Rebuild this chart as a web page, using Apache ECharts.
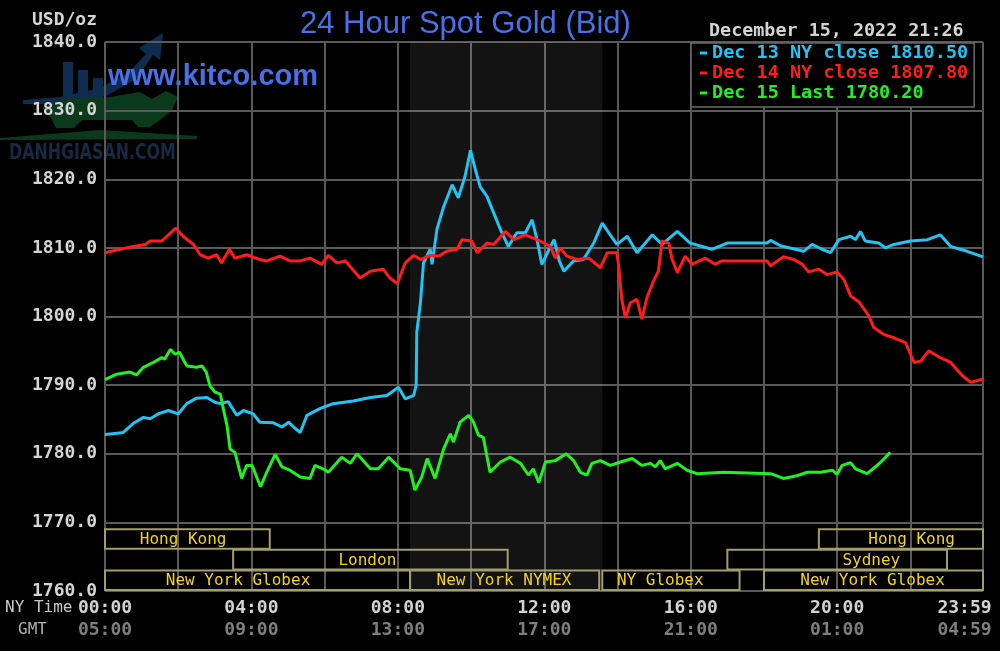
<!DOCTYPE html>
<html>
<head>
<meta charset="utf-8">
<script src="https://cdn.jsdelivr.net/npm/echarts@6/dist/echarts.min.js"></script>
<style>
html,body{margin:0;padding:0;background:#000;}
#c{width:1000px;height:651px;}
</style>
</head>
<body>
<div id="c"></div>
<script>
// ---- data (minute of NY day, USD/oz) ----
const dec13Name = 'Dec 13 NY close 1810.50';
const dec14Name = 'Dec 14 NY close 1807.80';
const dec15Name = 'Dec 15 Last 1780.20';

const dec13 = [[0,1782.8],[20,1783.0],[30,1783.1],[46,1784.4],[63,1785.3],[74,1785.1],[87,1785.8],[104,1786.3],[120,1785.8],[134,1787.3],[150,1788.1],[167,1788.2],[180,1787.5],[189,1787.3],[202,1787.6],[216,1785.6],[227,1786.3],[243,1785.8],[254,1784.6],[276,1784.5],[290,1783.9],[301,1784.6],[309,1783.9],[320,1783.1],[331,1785.6],[353,1786.6],[374,1787.3],[407,1787.7],[435,1788.2],[462,1788.5],[481,1789.7],[492,1788.0],[506,1788.5],[510,1790.0],[511,1797.7],[517,1802.0],[522,1807.8],[533,1809.8],[536,1807.6],[544,1812.7],[555,1816.0],[569,1819.2],[579,1817.3],[590,1820.4],[599,1824.2],[607,1821.4],[615,1818.9],[626,1817.5],[637,1815.1],[648,1812.7],[661,1810.2],[675,1812.2],[689,1812.2],[700,1814.1],[708,1811.2],[716,1807.6],[728,1809.8],[736,1811.2],[745,1808.0],[752,1806.6],[768,1808.1],[784,1808.3],[801,1810.7],[815,1813.6],[828,1811.9],[839,1810.5],[856,1811.7],[872,1809.3],[897,1811.9],[913,1810.5],[938,1812.4],[959,1810.7],[995,1809.8],[1020,1810.7],[1085,1810.7],[1091,1811.1],[1107,1810.3],[1145,1809.5],[1159,1810.5],[1175,1809.8],[1189,1809.3],[1203,1811.2],[1222,1811.7],[1230,1811.2],[1238,1812.4],[1246,1811.0],[1268,1810.7],[1279,1810.0],[1293,1810.5],[1320,1811.0],[1348,1811.2],[1369,1811.9],[1386,1810.2],[1413,1809.5],[1439,1808.7]];

const dec14 = [[0,1809.3],[25,1809.8],[46,1810.2],[66,1810.5],[74,1811.0],[93,1811.0],[104,1811.9],[116,1812.9],[128,1811.7],[145,1810.5],[156,1809.0],[169,1808.5],[183,1809.0],[191,1807.8],[204,1809.8],[213,1808.5],[232,1809.0],[254,1808.3],[265,1808.1],[287,1808.8],[303,1808.1],[320,1808.1],[336,1808.5],[355,1807.6],[366,1808.9],[380,1807.8],[394,1808.1],[418,1805.6],[435,1806.6],[456,1806.9],[467,1805.6],[479,1804.8],[492,1807.8],[506,1808.9],[517,1808.3],[533,1808.9],[547,1808.8],[560,1809.5],[577,1809.8],[585,1811.2],[601,1811.0],[610,1809.3],[626,1810.7],[637,1810.5],[656,1812.4],[670,1811.2],[689,1811.9],[708,1811.2],[722,1810.6],[730,1810.2],[738,1808.5],[746,1810.0],[757,1808.8],[774,1808.3],[793,1808.5],[812,1807.1],[823,1809.3],[839,1809.3],[842,1807.3],[847,1802.5],[853,1799.8],[861,1802.0],[872,1802.5],[880,1799.6],[888,1802.7],[899,1805.2],[907,1806.6],[913,1811.0],[924,1810.7],[929,1808.5],[938,1806.4],[951,1808.8],[962,1807.6],[984,1808.5],[1000,1807.6],[1011,1808.1],[1085,1808.1],[1091,1807.4],[1112,1808.7],[1129,1808.3],[1143,1807.6],[1153,1806.5],[1170,1806.9],[1184,1806.1],[1200,1806.5],[1211,1805.4],[1222,1803.0],[1235,1802.2],[1252,1800.1],[1260,1798.4],[1276,1797.4],[1293,1796.9],[1312,1796.2],[1326,1793.3],[1337,1793.5],[1350,1795.0],[1369,1794.0],[1386,1793.3],[1405,1791.4],[1419,1790.4],[1439,1790.9]];

const dec15 = [[0,1790.8],[19,1791.6],[41,1791.9],[52,1791.5],[63,1792.6],[79,1793.3],[93,1794.0],[98,1793.8],[107,1795.2],[115,1794.5],[122,1794.8],[134,1792.8],[150,1792.6],[159,1792.8],[166,1791.9],[172,1789.9],[180,1789.0],[189,1788.7],[194,1786.5],[200,1784.1],[205,1780.7],[213,1780.2],[224,1776.4],[232,1778.3],[241,1778.3],[255,1775.2],[265,1777.3],[279,1779.9],[290,1778.1],[303,1777.6],[320,1776.6],[336,1776.4],[344,1778.3],[360,1777.7],[366,1777.3],[388,1779.5],[402,1778.6],[413,1780.0],[435,1777.8],[448,1777.8],[465,1779.5],[484,1777.8],[500,1777.6],[508,1774.7],[519,1776.6],[528,1779.3],[541,1776.4],[555,1780.7],[566,1782.9],[571,1781.7],[582,1784.6],[596,1785.6],[604,1784.6],[612,1782.7],[620,1782.4],[631,1777.3],[648,1778.8],[664,1779.5],[681,1778.6],[694,1776.9],[702,1777.8],[711,1775.8],[722,1778.8],[738,1779.0],[756,1780.0],[768,1779.0],[779,1777.3],[790,1776.9],[798,1778.6],[812,1779.0],[828,1778.3],[845,1778.8],[864,1779.3],[880,1778.3],[894,1778.6],[902,1778.1],[910,1779.0],[918,1777.8],[938,1778.6],[954,1777.6],[970,1777.1],[1014,1777.3],[1091,1777.1],[1112,1776.4],[1134,1776.8],[1151,1777.3],[1173,1777.3],[1192,1777.6],[1200,1777.0],[1208,1778.3],[1222,1778.7],[1230,1777.8],[1249,1777.1],[1263,1778.1],[1274,1779.0],[1287,1780.2]];

// NYMEX pit session shading (minutes)
const nymexShade = [500, 815];

// market sessions
const sessionNames = ['Hong Kong','London','New York Globex','New York NYMEX','NY Globex','Sydney','Hong Kong','New York Globex'];
const sessionStart = [0, 210, 0, 500, 815, 1020, 1170, 1080];
const sessionEnd   = [270, 660, 500, 810, 1040, 1380, 1439, 1439];
const sessionRow   = [0, 1, 2, 2, 2, 1, 0, 2];
const sessionLabelAt = [128, 430, 218, 654, 910, 1256, 1322, 1258];

// axis ticks
const tickMinutes = [0, 240, 480, 720, 960, 1200, 1439];
const nyTickLabels = ['00:00','04:00','08:00','12:00','16:00','20:00','23:59'];
const gmtTickLabels = ['05:00','09:00','13:00','17:00','21:00','01:00','04:59'];
const yMin = 1760, yMax = 1840, yStep = 10;
const dateText = 'December 15, 2022 21:26';

// ---- chart ----
const MONO = '"DejaVu Sans Mono", "Liberation Mono", monospace';
const sessionData = sessionNames.map((n, i) => [sessionStart[i], sessionEnd[i], sessionRow[i], sessionLabelAt[i], n]);

const chart = echarts.init(document.getElementById('c'));
chart.setOption({
  backgroundColor: '#000',
  animation: false,
  title: [
    { text: '24 Hour Spot Gold (Bid)', left: 300, top: 9, padding: 0,
      textStyle: { color: '#4a6fe6', fontSize: 31, fontWeight: 'normal', fontFamily: 'Liberation Sans, Arial, sans-serif' } },
    { text: 'www.kitco.com', left: 108, top: 62, padding: 0,
      textStyle: { color: '#4a6fe6', fontSize: 29, fontWeight: 'bold', fontFamily: 'Liberation Sans, Arial, sans-serif' } },
    { text: dateText, left: 709, top: 22, padding: 0,
      textStyle: { color: '#d4d4d4', fontSize: 18.4, fontWeight: 'bold', fontFamily: MONO } },
    { text: 'USD/oz', left: 32, top: 11, padding: 0,
      textStyle: { color: '#d4d4d4', fontSize: 18, fontWeight: 'bold', fontFamily: MONO } },
    { text: 'NY Time', left: 5, top: 600, padding: 0,
      textStyle: { color: '#c8c8c8', fontSize: 16, fontWeight: 'normal', fontFamily: MONO } },
    { text: 'GMT', left: 18, top: 622, padding: 0,
      textStyle: { color: '#b0b0b0', fontSize: 16, fontWeight: 'normal', fontFamily: MONO } }
  ],
  graphic: [
    { type: 'polygon', z: -10, shape: { points: [[23,100],[60,97],[100,88],[128,73],[146,54],[139,48],[163,33],[160,60],[153,55],[136,79],[106,96],[70,104],[23,104]] }, style: { fill: '#0f2c4e' } },
    { type: 'rect', z: -10, shape: { x: 63, y: 62, width: 10, height: 38 }, style: { fill: '#0f2c4e' } },
    { type: 'rect', z: -10, shape: { x: 78, y: 70, width: 10, height: 30 }, style: { fill: '#0f2c4e' } },
    { type: 'rect', z: -10, shape: { x: 93, y: 78, width: 10, height: 20 }, style: { fill: '#0f2c4e' } },
    { type: 'polygon', z: -10, shape: { points: [[42,108],[62,99],[110,97],[140,92],[152,99],[166,91],[178,97],[172,110],[160,120],[150,127],[138,127],[132,120],[82,120],[74,128],[56,128],[50,116]] }, style: { fill: '#0b391b' } },
    { type: 'polygon', z: -10, shape: { points: [[0,138],[100,130],[197,136],[197,139],[0,140]] }, style: { fill: '#0b391b' } },
    { type: 'text', z: -10, x: 9, y: 153, scaleX: 0.8,
      style: { text: 'DANHGIASAN.COM', fill: '#172a42', font: 'bold 22px "DejaVu Sans Condensed", "DejaVu Sans", sans-serif', verticalAlign: 'middle', align: 'left' } }
  ],
  legend: {
    orient: 'vertical',
    left: 691, top: 43,
    padding: [0, 6, 4, 9],
    itemGap: 0,
    icon: 'rect',
    itemWidth: 7, itemHeight: 3,
    backgroundColor: '#000',
    borderColor: '#6a6a6a', borderWidth: 1.5,
    selectedMode: false,
    textStyle: { fontFamily: MONO, fontSize: 18.5, fontWeight: 'bold', lineHeight: 20 },
    data: [
      { name: dec13Name, textStyle: { color: '#23c3f2' } },
      { name: dec14Name, textStyle: { color: '#ff1c1c' } },
      { name: dec15Name, textStyle: { color: '#22f022' } }
    ]
  },
  grid: { left: 105, right: 17, top: 42, bottom: 60, outerBoundsMode: 'none', containLabel: false },
  xAxis: {
    type: 'value', min: 0, max: 1439, interval: 120,
    axisLine: { show: false }, axisTick: { show: false },
    splitLine: { show: true, lineStyle: { color: '#5a5a5a', width: 2 } },
    axisLabel: {
      showMinLabel: true, showMaxLabel: true, hideOverlap: false, margin: 7,
      formatter: function (v) {
        const i = tickMinutes.indexOf(Math.round(v));
        if (i < 0) return '';
        if (i === tickMinutes.length - 1) return '{ar|' + nyTickLabels[i] + '}\n{br|' + gmtTickLabels[i] + '}';
        return '{a|' + nyTickLabels[i] + '}\n{b|' + gmtTickLabels[i] + '}';
      },
      rich: {
        a: { color: '#d2d2d2', fontFamily: MONO, fontSize: 18, fontWeight: 'bold', lineHeight: 21.5 },
        b: { color: '#7e7e7e', fontFamily: MONO, fontSize: 18, fontWeight: 'bold', lineHeight: 21.5 },
        ar: { color: '#d2d2d2', fontFamily: MONO, fontSize: 18, fontWeight: 'bold', lineHeight: 21.5, padding: [0, 37, 0, 0] },
        br: { color: '#7e7e7e', fontFamily: MONO, fontSize: 18, fontWeight: 'bold', lineHeight: 21.5, padding: [0, 37, 0, 0] }
      }
    }
  },
  yAxis: {
    type: 'value', min: yMin, max: yMax, interval: yStep,
    axisLine: { show: false }, axisTick: { show: false },
    splitLine: { show: true, lineStyle: { color: '#5a5a5a', width: 2 } },
    axisLabel: {
      margin: 8, color: '#d4d4d4', fontFamily: MONO, fontSize: 18, fontWeight: 'bold',
      formatter: v => v.toFixed(1)
    }
  },
  series: [
    {
      name: 'sessions', type: 'custom', silent: true, clip: false, z: 1,
      data: sessionData,
      encode: { x: [0, 1], y: 2 },
      renderItem: function (params, api) {
        const row = api.value(2);
        const topV = 1769 - row * 3;
        const botV = topV - 2.85;
        const p0 = api.coord([api.value(0), topV]);
        const p1 = api.coord([api.value(1), botV]);
        const lx = api.coord([api.value(3), topV])[0];
        return {
          type: 'group',
          children: [
            { type: 'rect', shape: { x: p0[0], y: p0[1], width: p1[0] - p0[0], height: p1[1] - p0[1] },
              style: { fill: null, stroke: '#a29d6c', lineWidth: 2 } },
            { type: 'text', x: lx, y: (p0[1] + p1[1]) / 2 + 1,
              style: { text: api.value(4), fill: '#f4d41a', font: '16px ' + MONO, align: 'center', verticalAlign: 'middle' } }
          ]
        };
      },
      markArea: {
        silent: true,
        itemStyle: { color: 'rgba(255,255,255,0.075)' },
        data: [[{ xAxis: nymexShade[0] }, { xAxis: nymexShade[1] }]]
      }
    },
    { name: dec13Name, type: 'line', data: dec13, showSymbol: false, symbol: 'none', z: 3,
      lineStyle: { color: '#23c3f2', width: 3 }, itemStyle: { color: '#23c3f2' } },
    { name: dec14Name, type: 'line', data: dec14, showSymbol: false, symbol: 'none', z: 4,
      lineStyle: { color: '#ff1c1c', width: 3 }, itemStyle: { color: '#ff1c1c' } },
    { name: dec15Name, type: 'line', data: dec15, showSymbol: false, symbol: 'none', z: 5,
      lineStyle: { color: '#22f022', width: 3 }, itemStyle: { color: '#22f022' } }
  ]
});
</script>
</body>
</html>
